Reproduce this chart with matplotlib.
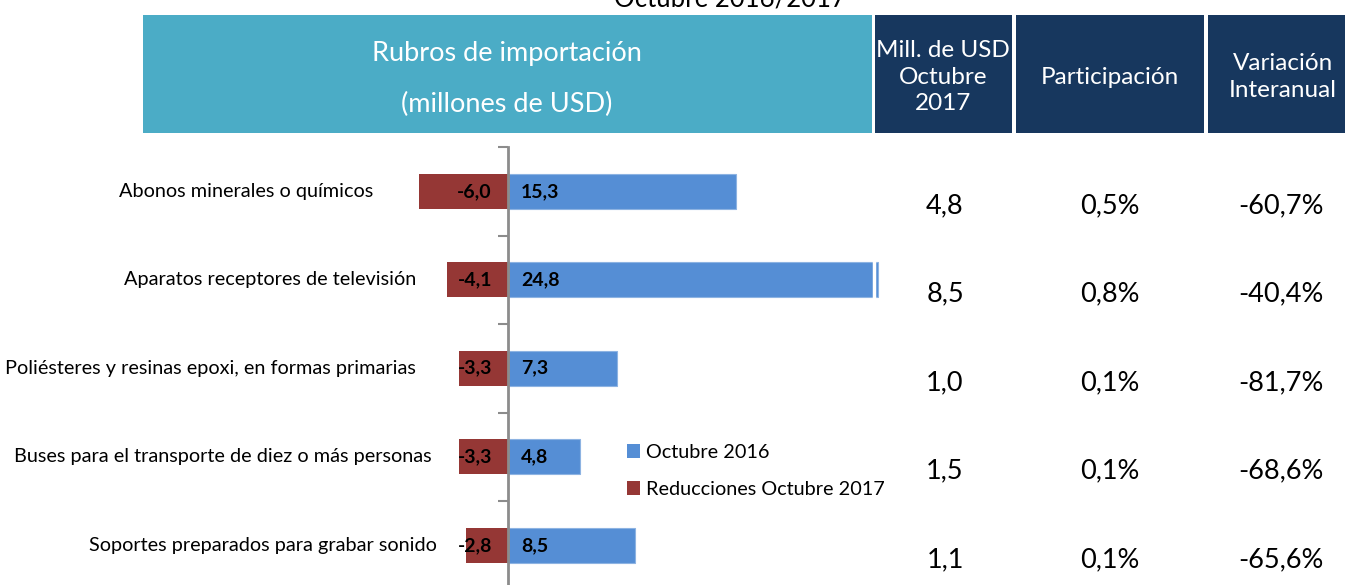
import matplotlib
matplotlib.use("Agg")
import matplotlib.pyplot as plt
from matplotlib.patches import Rectangle
from matplotlib import transforms

# ---- data ----
categories = [
    "Abonos minerales o químicos",
    "Aparatos receptores de televisión",
    "Poliésteres y resinas epoxi, en formas primarias",
    "Buses para el transporte de diez o más personas",
    "Soportes preparados para grabar sonido",
]
octubre_2016 = [15.3, 24.8, 7.3, 4.8, 8.5]
reducciones_2017 = [-6.0, -4.1, -3.3, -3.3, -2.8]
mill_usd_oct_2017 = [4.8, 8.5, 1.0, 1.5, 1.1]
participacion = [0.5, 0.8, 0.1, 0.1, 0.1]
variacion_interanual = [-60.7, -40.4, -81.7, -68.6, -65.6]

series_names = ["Octubre 2016", "Reducciones Octubre 2017"]
title_text = "Octubre 2016/2017"
header_left = ["Rubros de importación", "(millones de USD)"]
header_cols = ["Mill. de USD\nOctubre\n2017", "Participación", "Variación\nInteranual"]

# ---- style ----
W, H = 1345, 585
BLUE = "#558ED5"
RED = "#953735"
CYAN = "#4BACC6"
NAVY = "#17375E"
FONT = "Lato"
plt.rcParams["font.family"] = [FONT, "DejaVu Sans"]


def fx(px):
    return px / W


def fy(py):
    return 1 - py / H


def fmt(v, pct=False):
    s = f"{v:.1f}".replace(".", ",")
    return s + ("%" if pct else "")


fig = plt.figure(figsize=(W / 100, H / 100), dpi=100)
fig.patch.set_facecolor("white")

# header boxes
fig.patches.append(Rectangle((fx(143), fy(133)), fx(872) - fx(143), fy(15) - fy(133),
                             transform=fig.transFigure, facecolor=CYAN, edgecolor="none"))
col_boxes = [(875, 1012), (1016, 1204), (1208, 1345)]
for (x0, x1) in col_boxes:
    fig.patches.append(Rectangle((fx(x0), fy(133)), fx(x1) - fx(x0), fy(15) - fy(133),
                                 transform=fig.transFigure, facecolor=NAVY, edgecolor="none"))

for txt, py in zip(header_left, [53, 104]):
    fig.text(fx(507), fy(py), txt, color="white", fontsize=19.5, ha="center", va="center")
col_centers = [943, 1110, 1283]
for cx, txt in zip(col_centers, header_cols):
    fig.text(fx(cx), fy(77), txt, color="white", fontsize=17.5, ha="center", va="center",
             linespacing=1.3)

fig.text(fx(730), fy(6), title_text, color="black", fontsize=18.5, ha="center", va="baseline")

# chart axes
top_px = 147
row_px = 88.5
ax = fig.add_axes([0, 0, 1, (H - top_px) / H])
px_per_unit = 14.9
zero_px = 508
ax.set_xlim(-zero_px / px_per_unit, (W - zero_px) / px_per_unit)
ax.set_ylim(-0.5 + (H - top_px) / row_px, -0.5)
ax.patch.set_alpha(0)

y = list(range(len(categories)))
bh = 35 / row_px
b1 = ax.barh(y, octubre_2016, height=bh, color=BLUE, edgecolor="#8DB3E2", linewidth=0.8,
             label=series_names[0], zorder=2)
b2 = ax.barh(y, reducciones_2017, height=bh, color=RED, edgecolor="none",
             label=series_names[1], zorder=2)

for s in ["top", "right", "bottom"]:
    ax.spines[s].set_visible(False)
ax.spines["left"].set_position(("data", 0))
ax.spines["left"].set_color("#8C8C8C")
ax.spines["left"].set_linewidth(2)
ax.spines["left"].set_zorder(3)
ax.set_xticks([])
ax.set_yticks([i - 0.5 for i in y])
ax.set_yticklabels([])
ax.tick_params(axis="y", direction="out", length=7, width=1.5, color="#8C8C8C")

# white gap line continuing the header separation
ax.axvline((873.5 - zero_px) / px_per_unit, color="white", lw=2.5, zorder=4)

# value labels
for i in y:
    ax.annotate(fmt(octubre_2016[i]), xy=(0, i), xytext=(13, 0), textcoords="offset pixels",
                ha="left", va="center", fontsize=14, fontweight="bold", color="black", zorder=5)
    ax.annotate(fmt(reducciones_2017[i]), xy=(0, i), xytext=(-16, 0), textcoords="offset pixels",
                ha="right", va="center", fontsize=14, fontweight="bold", color="black", zorder=5)

# category labels (right edges in pixels, as in the reference)
label_right_px = [373, 416, 416, 432, 437]
trans = transforms.blended_transform_factory(fig.transFigure, ax.transData)
for i, (lab, rx) in enumerate(zip(categories, label_right_px)):
    ax.text(fx(rx), i, lab, transform=trans, ha="right", va="center", fontsize=14.3, color="black")

# right-side columns
cols = [
    [fmt(v) for v in mill_usd_oct_2017],
    [fmt(v, True) for v in participacion],
    [fmt(v, True) for v in variacion_interanual],
]
col_val_centers = [945, 1110, 1281]
for cx, vals in zip(col_val_centers, cols):
    for i, v in enumerate(vals):
        ax.text(fx(cx), i + 0.16, v, transform=trans, ha="center", va="center", fontsize=19.5,
                color="black")

# legend
leg = ax.legend(handles=[b1, b2], loc="upper left", bbox_to_anchor=(fx(627), fy(444)),
                bbox_transform=fig.transFigure, frameon=False, fontsize=14.3,
                handlelength=0.65, handleheight=0.65, handletextpad=0.3, labelspacing=1.0,
                borderpad=0, borderaxespad=0)
for h in leg.legend_handles:
    h.set_edgecolor("none")

fig.savefig("out.png", dpi=100)
